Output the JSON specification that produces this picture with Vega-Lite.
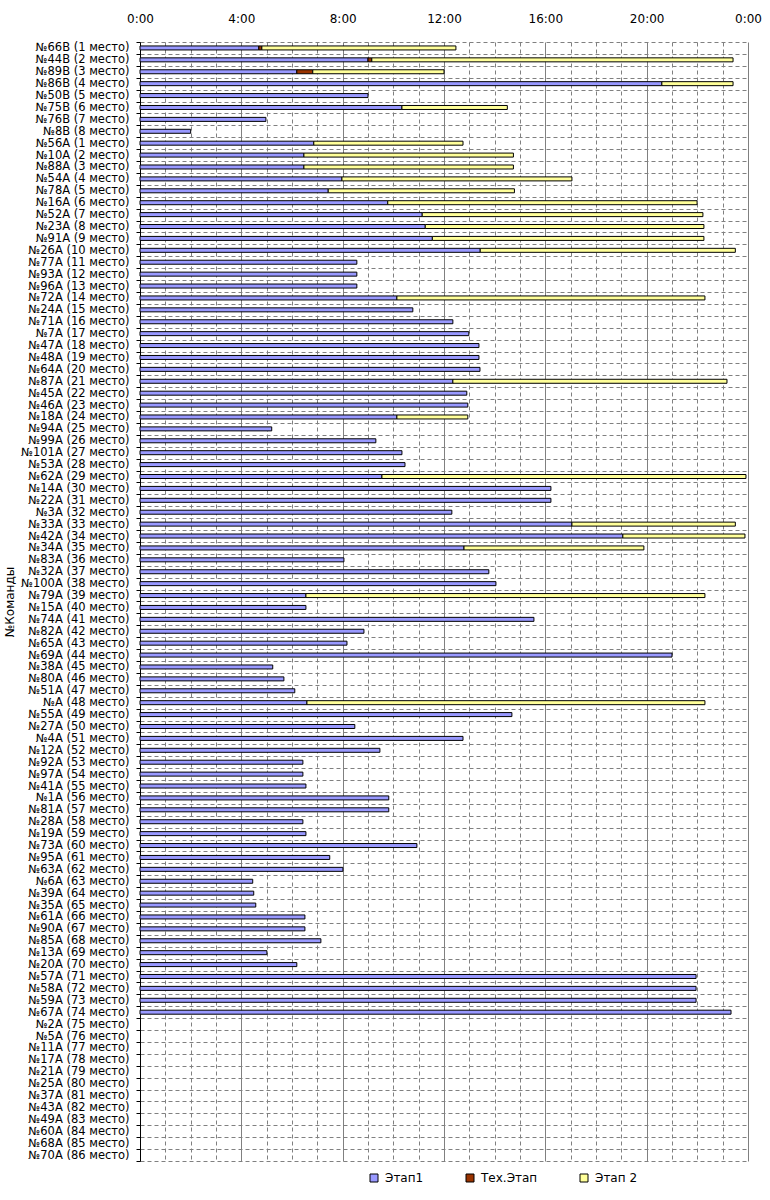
{
  "$schema": "https://vega.github.io/schema/vega-lite/v6.json",
  "width": 608,
  "height": 1119,
  "autosize": {"type": "none"},
  "padding": {"left": 140, "top": 42, "right": 22, "bottom": 39},
  "background": "white",
  "config": {
    "view": {"stroke": null},
    "font": "DejaVu Sans"
  },
  "data": {
    "values": [
      {"t": "№66В (1 место)", "s": "Этап1", "k": 1, "v": 4.69},
      {"t": "№66В (1 место)", "s": "Тех.Этап", "k": 2, "v": 0.12},
      {"t": "№66В (1 место)", "s": "Этап 2", "k": 3, "v": 7.66},
      {"t": "№44В (2 место)", "s": "Этап1", "k": 1, "v": 9.0},
      {"t": "№44В (2 место)", "s": "Тех.Этап", "k": 2, "v": 0.15},
      {"t": "№44В (2 место)", "s": "Этап 2", "k": 3, "v": 14.26},
      {"t": "№89В (3 место)", "s": "Этап1", "k": 1, "v": 6.19},
      {"t": "№89В (3 место)", "s": "Тех.Этап", "k": 2, "v": 0.63},
      {"t": "№89В (3 место)", "s": "Этап 2", "k": 3, "v": 5.18},
      {"t": "№86В (4 место)", "s": "Этап1", "k": 1, "v": 20.6},
      {"t": "№86В (4 место)", "s": "Этап 2", "k": 3, "v": 2.81},
      {"t": "№50В (5 место)", "s": "Этап1", "k": 1, "v": 9.0},
      {"t": "№75В (6 место)", "s": "Этап1", "k": 1, "v": 10.34},
      {"t": "№75В (6 место)", "s": "Этап 2", "k": 3, "v": 4.16},
      {"t": "№76В (7 место)", "s": "Этап1", "k": 1, "v": 4.97},
      {"t": "№8В (8 место)", "s": "Этап1", "k": 1, "v": 2.0},
      {"t": "№56А (1 место)", "s": "Этап1", "k": 1, "v": 6.86},
      {"t": "№56А (1 место)", "s": "Этап 2", "k": 3, "v": 5.89},
      {"t": "№10А (2 место)", "s": "Этап1", "k": 1, "v": 6.47},
      {"t": "№10А (2 место)", "s": "Этап 2", "k": 3, "v": 8.27},
      {"t": "№88А (3 место)", "s": "Этап1", "k": 1, "v": 6.47},
      {"t": "№88А (3 место)", "s": "Этап 2", "k": 3, "v": 8.27},
      {"t": "№54А (4 место)", "s": "Этап1", "k": 1, "v": 7.97},
      {"t": "№54А (4 место)", "s": "Этап 2", "k": 3, "v": 9.08},
      {"t": "№78А (5 место)", "s": "Этап1", "k": 1, "v": 7.43},
      {"t": "№78А (5 место)", "s": "Этап 2", "k": 3, "v": 7.35},
      {"t": "№16А (6 место)", "s": "Этап1", "k": 1, "v": 9.78},
      {"t": "№16А (6 место)", "s": "Этап 2", "k": 3, "v": 12.21},
      {"t": "№52А (7 место)", "s": "Этап1", "k": 1, "v": 11.14},
      {"t": "№52А (7 место)", "s": "Этап 2", "k": 3, "v": 11.08},
      {"t": "№23А (8 место)", "s": "Этап1", "k": 1, "v": 11.26},
      {"t": "№23А (8 место)", "s": "Этап 2", "k": 3, "v": 11.0},
      {"t": "№91А (9 место)", "s": "Этап1", "k": 1, "v": 11.54},
      {"t": "№91А (9 место)", "s": "Этап 2", "k": 3, "v": 10.72},
      {"t": "№26А (10 место)", "s": "Этап1", "k": 1, "v": 13.43},
      {"t": "№26А (10 место)", "s": "Этап 2", "k": 3, "v": 10.07},
      {"t": "№77А (11 место)", "s": "Этап1", "k": 1, "v": 8.56},
      {"t": "№93А (12 место)", "s": "Этап1", "k": 1, "v": 8.56},
      {"t": "№96А (13 место)", "s": "Этап1", "k": 1, "v": 8.56},
      {"t": "№72А (14 место)", "s": "Этап1", "k": 1, "v": 10.14},
      {"t": "№72А (14 место)", "s": "Этап 2", "k": 3, "v": 12.16},
      {"t": "№24А (15 место)", "s": "Этап1", "k": 1, "v": 10.77},
      {"t": "№71А (16 место)", "s": "Этап1", "k": 1, "v": 12.35},
      {"t": "№7А (17 место)", "s": "Этап1", "k": 1, "v": 12.98},
      {"t": "№47А (18 место)", "s": "Этап1", "k": 1, "v": 13.38},
      {"t": "№48А (19 место)", "s": "Этап1", "k": 1, "v": 13.38},
      {"t": "№64А (20 место)", "s": "Этап1", "k": 1, "v": 13.42},
      {"t": "№87А (21 место)", "s": "Этап1", "k": 1, "v": 12.35},
      {"t": "№87А (21 место)", "s": "Этап 2", "k": 3, "v": 10.82},
      {"t": "№45А (22 место)", "s": "Этап1", "k": 1, "v": 12.9},
      {"t": "№46А (23 место)", "s": "Этап1", "k": 1, "v": 12.94},
      {"t": "№18А (24 место)", "s": "Этап1", "k": 1, "v": 10.14},
      {"t": "№18А (24 место)", "s": "Этап 2", "k": 3, "v": 2.8},
      {"t": "№94А (25 место)", "s": "Этап1", "k": 1, "v": 5.2},
      {"t": "№99А (26 место)", "s": "Этап1", "k": 1, "v": 9.31},
      {"t": "№101А (27 место)", "s": "Этап1", "k": 1, "v": 10.34},
      {"t": "№53А (28 место)", "s": "Этап1", "k": 1, "v": 10.46},
      {"t": "№62А (29 место)", "s": "Этап1", "k": 1, "v": 9.55},
      {"t": "№62А (29 место)", "s": "Этап 2", "k": 3, "v": 14.37},
      {"t": "№14А (30 место)", "s": "Этап1", "k": 1, "v": 16.22},
      {"t": "№22А (31 место)", "s": "Этап1", "k": 1, "v": 16.22},
      {"t": "№3А (32 место)", "s": "Этап1", "k": 1, "v": 12.31},
      {"t": "№33А (33 место)", "s": "Этап1", "k": 1, "v": 17.05},
      {"t": "№33А (33 место)", "s": "Этап 2", "k": 3, "v": 6.45},
      {"t": "№42А (34 место)", "s": "Этап1", "k": 1, "v": 19.06},
      {"t": "№42А (34 место)", "s": "Этап 2", "k": 3, "v": 4.82},
      {"t": "№34А (35 место)", "s": "Этап1", "k": 1, "v": 12.79},
      {"t": "№34А (35 место)", "s": "Этап 2", "k": 3, "v": 7.1},
      {"t": "№83А (36 место)", "s": "Этап1", "k": 1, "v": 8.05},
      {"t": "№32А (37 место)", "s": "Этап1", "k": 1, "v": 13.77},
      {"t": "№100А (38 место)", "s": "Этап1", "k": 1, "v": 14.05},
      {"t": "№79А (39 место)", "s": "Этап1", "k": 1, "v": 6.55},
      {"t": "№79А (39 место)", "s": "Этап 2", "k": 3, "v": 15.75},
      {"t": "№15А (40 место)", "s": "Этап1", "k": 1, "v": 6.55},
      {"t": "№74А (41 место)", "s": "Этап1", "k": 1, "v": 15.55},
      {"t": "№82А (42 место)", "s": "Этап1", "k": 1, "v": 8.84},
      {"t": "№65А (43 место)", "s": "Этап1", "k": 1, "v": 8.17},
      {"t": "№69А (44 место)", "s": "Этап1", "k": 1, "v": 21.0},
      {"t": "№38А (45 место)", "s": "Этап1", "k": 1, "v": 5.24},
      {"t": "№80А (46 место)", "s": "Этап1", "k": 1, "v": 5.68},
      {"t": "№51А (47 место)", "s": "Этап1", "k": 1, "v": 6.11},
      {"t": "№А (48 место)", "s": "Этап1", "k": 1, "v": 6.59},
      {"t": "№А (48 место)", "s": "Этап 2", "k": 3, "v": 15.71},
      {"t": "№55А (49 место)", "s": "Этап1", "k": 1, "v": 14.68},
      {"t": "№27А (50 место)", "s": "Этап1", "k": 1, "v": 8.48},
      {"t": "№4А (51 место)", "s": "Этап1", "k": 1, "v": 12.75},
      {"t": "№12А (52 место)", "s": "Этап1", "k": 1, "v": 9.47},
      {"t": "№92А (53 место)", "s": "Этап1", "k": 1, "v": 6.43},
      {"t": "№97А (54 место)", "s": "Этап1", "k": 1, "v": 6.43},
      {"t": "№41А (55 место)", "s": "Этап1", "k": 1, "v": 6.55},
      {"t": "№1А (56 место)", "s": "Этап1", "k": 1, "v": 9.82},
      {"t": "№81А (57 место)", "s": "Этап1", "k": 1, "v": 9.82},
      {"t": "№28А (58 место)", "s": "Этап1", "k": 1, "v": 6.43},
      {"t": "№19А (59 место)", "s": "Этап1", "k": 1, "v": 6.55},
      {"t": "№73А (60 место)", "s": "Этап1", "k": 1, "v": 10.93},
      {"t": "№95А (61 место)", "s": "Этап1", "k": 1, "v": 7.49},
      {"t": "№63А (62 место)", "s": "Этап1", "k": 1, "v": 8.01},
      {"t": "№6А (63 место)", "s": "Этап1", "k": 1, "v": 4.45},
      {"t": "№39А (64 место)", "s": "Этап1", "k": 1, "v": 4.49},
      {"t": "№35А (65 место)", "s": "Этап1", "k": 1, "v": 4.57},
      {"t": "№61А (66 место)", "s": "Этап1", "k": 1, "v": 6.51},
      {"t": "№90А (67 место)", "s": "Этап1", "k": 1, "v": 6.51},
      {"t": "№85А (68 место)", "s": "Этап1", "k": 1, "v": 7.14},
      {"t": "№13А (69 место)", "s": "Этап1", "k": 1, "v": 5.01},
      {"t": "№20А (70 место)", "s": "Этап1", "k": 1, "v": 6.19},
      {"t": "№57А (71 место)", "s": "Этап1", "k": 1, "v": 21.95},
      {"t": "№58А (72 место)", "s": "Этап1", "k": 1, "v": 21.95},
      {"t": "№59А (73 место)", "s": "Этап1", "k": 1, "v": 21.95},
      {"t": "№67А (74 место)", "s": "Этап1", "k": 1, "v": 23.33}
    ]
  },
  "mark": {"type": "bar", "size": 4, "stroke": "black", "strokeWidth": 1, "cornerRadius": 0},
  "encoding": {
    "y": {
      "field": "t",
      "type": "nominal",
      "title": "№Команды",
      "scale": {
        "paddingInner": 0,
        "paddingOuter": 0,
        "domain": [
          "№66В (1 место)", "№44В (2 место)", "№89В (3 место)", "№86В (4 место)", "№50В (5 место)", "№75В (6 место)", "№76В (7 место)", "№8В (8 место)",
          "№56А (1 место)", "№10А (2 место)", "№88А (3 место)", "№54А (4 место)", "№78А (5 место)", "№16А (6 место)", "№52А (7 место)", "№23А (8 место)", "№91А (9 место)", "№26А (10 место)",
          "№77А (11 место)", "№93А (12 место)", "№96А (13 место)", "№72А (14 место)", "№24А (15 место)", "№71А (16 место)", "№7А (17 место)", "№47А (18 место)", "№48А (19 место)", "№64А (20 место)",
          "№87А (21 место)", "№45А (22 место)", "№46А (23 место)", "№18А (24 место)", "№94А (25 место)", "№99А (26 место)", "№101А (27 место)", "№53А (28 место)", "№62А (29 место)", "№14А (30 место)",
          "№22А (31 место)", "№3А (32 место)", "№33А (33 место)", "№42А (34 место)", "№34А (35 место)", "№83А (36 место)", "№32А (37 место)", "№100А (38 место)", "№79А (39 место)", "№15А (40 место)",
          "№74А (41 место)", "№82А (42 место)", "№65А (43 место)", "№69А (44 место)", "№38А (45 место)", "№80А (46 место)", "№51А (47 место)", "№А (48 место)", "№55А (49 место)", "№27А (50 место)",
          "№4А (51 место)", "№12А (52 место)", "№92А (53 место)", "№97А (54 место)", "№41А (55 место)", "№1А (56 место)", "№81А (57 место)", "№28А (58 место)", "№19А (59 место)", "№73А (60 место)",
          "№95А (61 место)", "№63А (62 место)", "№6А (63 место)", "№39А (64 место)", "№35А (65 место)", "№61А (66 место)", "№90А (67 место)", "№85А (68 место)", "№13А (69 место)", "№20А (70 место)",
          "№57А (71 место)", "№58А (72 место)", "№59А (73 место)", "№67А (74 место)", "№2А (75 место)", "№5А (76 место)", "№11А (77 место)", "№17А (78 место)", "№21А (79 место)", "№25А (80 место)",
          "№37А (81 место)", "№43А (82 место)", "№49А (83 место)", "№60А (84 место)", "№68А (85 место)", "№70А (86 место)"
        ]
      },
      "axis": {
        "tickBand": "extent",
        "tickSize": 4,
        "tickColor": "black",
        "domainColor": "black",
        "grid": true,
        "gridColor": "#808080",
        "gridDash": [4, 3],
        "gridWidth": 1,
        "labelFontSize": 11.5,
        "labelColor": "black",
        "labelPadding": 7,
        "labelLimit": 300,
        "labelOverlap": false,
        "titleFontSize": 12,
        "titleFontWeight": "normal",
        "titleColor": "black",
        "titlePadding": 4
      }
    },
    "x": {
      "field": "v",
      "type": "quantitative",
      "stack": "zero",
      "title": null,
      "scale": {"domain": [0, 24], "nice": false},
      "axis": {
        "orient": "top",
        "values": [0, 1, 2, 3, 4, 5, 6, 7, 8, 9, 10, 11, 12, 13, 14, 15, 16, 17, 18, 19, 20, 21, 22, 23, 24],
        "labelExpr": "datum.value % 4 === 0 ? (datum.value % 24) + ':00' : ''",
        "labelOverlap": false,
        "labelFlush": false,
        "labelFontSize": 12,
        "labelColor": "black",
        "labelPadding": 17,
        "ticks": false,
        "domain": false,
        "grid": true,
        "gridColor": "#808080",
        "gridWidth": 1,
        "gridDash": {"condition": {"test": "datum.value % 4 === 0", "value": []}, "value": [4, 3]}
      }
    },
    "color": {
      "field": "s",
      "type": "nominal",
      "title": null,
      "scale": {"domain": ["Этап1", "Тех.Этап", "Этап 2"], "range": ["#9999ff", "#993300", "#ffff99"]},
      "legend": {
        "orient": "none",
        "direction": "horizontal",
        "legendX": 228,
        "legendY": 1130,
        "symbolType": "square",
        "symbolSize": 64,
        "symbolStrokeColor": "black",
        "symbolStrokeWidth": 1,
        "symbolOpacity": 1,
        "labelFontSize": 12,
        "labelColor": "black",
        "labelOffset": 5,
        "columnPadding": 40
      }
    },
    "order": {"field": "k", "type": "quantitative"}
  }
}
